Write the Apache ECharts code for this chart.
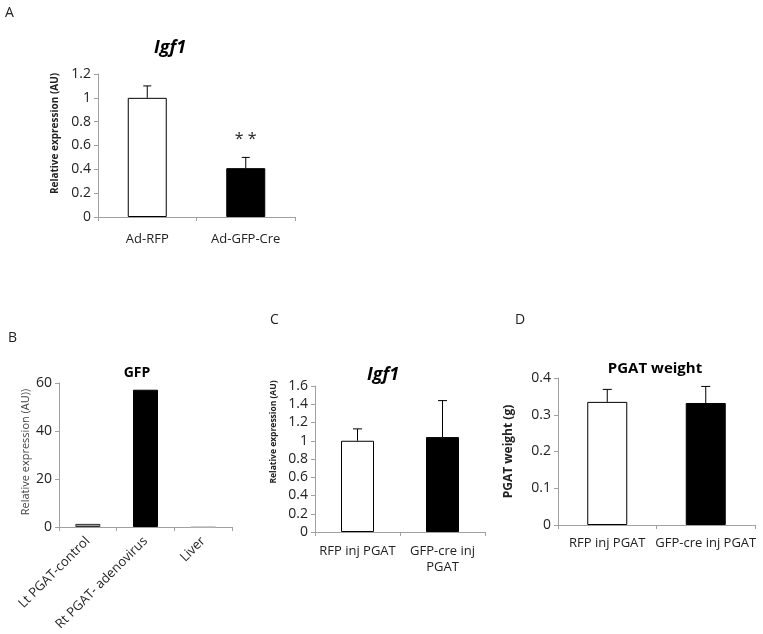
<!DOCTYPE html>
<html><head><meta charset="utf-8">
<script src="https://cdn.jsdelivr.net/npm/echarts@6/dist/echarts.min.js"></script>
<style>html,body{margin:0;padding:0;background:#fff}#c{width:763px;height:634px}</style>
</head><body><div id="c"></div>
<script>
// ---- data ----
const catsA = ['Ad-RFP', 'Ad-GFP-Cre'];
const valsA = [1.0, 0.41];
const errA  = [0.10, 0.09];
const sigA  = ['', '* *'];

const catsB = ['Lt PGAT-control', 'Rt PGAT- adenovirus', 'Liver'];
const valsB = [1.3, 57.2, 0.2];

const catsC = ['RFP inj PGAT', 'GFP-cre inj\nPGAT'];
const valsC = [1.0, 1.04];
const errC  = [0.13, 0.40];

const catsD = ['RFP inj PGAT', 'GFP-cre inj PGAT'];
const valsD = [0.335, 0.332];
const errD  = [0.034, 0.045];

// ---- styles ----
const FONT = '"Open Sans", "Noto Sans", sans-serif';
const AX = '#a0a0a0';
const fillA = ['#ffffff', '#000000'];
const fillB = ['#9a9a9a', '#000000', '#d0d0d0'];
const borderB = ['#333333', '#000000', '#c8c8c8'];

const chart = echarts.init(document.getElementById('c'), null, {renderer: 'canvas'});

function xAx(gi, cats, extra) {
  return Object.assign({
    type: 'category', gridIndex: gi, data: cats,
    axisLine: {lineStyle: {color: AX, width: 1}},
    axisTick: {show: true, length: 4, lineStyle: {color: AX}},
    axisLabel: {color: '#222', fontFamily: FONT, fontSize: 13, margin: 12, interval: 0, lineHeight: 20}
  }, extra || {});
}
function yAx(gi, min, max, interval, name, nameStyle, nameGap) {
  return {
    type: 'value', gridIndex: gi, min: min, max: max, interval: interval,
    name: name, nameLocation: 'middle', nameGap: nameGap, nameRotate: 90,
    nameTextStyle: Object.assign({color: '#222', fontFamily: FONT}, nameStyle),
    axisLine: {show: true, lineStyle: {color: AX, width: 1}},
    axisTick: {show: true, length: 4, lineStyle: {color: AX}},
    splitLine: {show: false},
    axisLabel: {color: '#222', fontFamily: FONT, fontSize: 14, margin: 7}
  };
}
function barSeries(gi, vals, fills, borders, bw) {
  return {
    type: 'bar', xAxisIndex: gi, yAxisIndex: gi, barWidth: bw,
    data: vals.map((v, i) => ({
      value: v,
      itemStyle: {color: fills[i], borderColor: borders ? borders[i] : '#000', borderWidth: 1}
    })),
    silent: true, animation: false
  };
}
function errSeries(gi, vals, errs, cap, stars) {
  return {
    type: 'custom', xAxisIndex: gi, yAxisIndex: gi, animation: false, silent: true,
    data: vals.map((v, i) => [i, v, v + errs[i]]),
    renderItem: function (params, api) {
      const i = api.value(0);
      const p0 = api.coord([i, api.value(1)]);
      const p1 = api.coord([i, api.value(2)]);
      const st = {stroke: '#000', lineWidth: 1};
      const children = [
        {type: 'line', shape: {x1: p0[0], y1: p0[1], x2: p1[0], y2: p1[1]}, style: st},
        {type: 'line', shape: {x1: p1[0] - cap / 2, y1: p1[1], x2: p1[0] + cap / 2, y2: p1[1]}, style: st}
      ];
      if (stars && stars[i]) {
        children.push({type: 'text', x: p1[0], y: p1[1] - 18,
          style: {text: stars[i], fill: '#222', font: '16px ' + FONT, textAlign: 'center', textVerticalAlign: 'middle'}});
      }
      return {type: 'group', children: children};
    }
  };
}

const option = {
  backgroundColor: '#ffffff',
  animation: false,
  title: [
    {text: 'Igf1', left: 165, top: 34, textAlign: 'center',
     textStyle: {fontFamily: FONT, fontSize: 18, fontWeight: 'bold', fontStyle: 'italic', color: '#000'}},
    {text: 'GFP', left: 132, top: 361, textAlign: 'center',
     textStyle: {fontFamily: FONT, fontSize: 14, fontWeight: 'bold', color: '#000'}},
    {text: 'Igf1', left: 378, top: 361, textAlign: 'center',
     textStyle: {fontFamily: FONT, fontSize: 18, fontWeight: 'bold', fontStyle: 'italic', color: '#000'}},
    {text: 'PGAT weight', left: 650, top: 356, textAlign: 'center',
     textStyle: {fontFamily: FONT, fontSize: 15, fontWeight: 'bold', color: '#000'}}
  ],
  graphic: [
    {type: 'text', left: 5, top: 6, style: {text: 'A', font: '14px ' + FONT, fill: '#222'}},
    {type: 'text', left: 8, top: 331, style: {text: 'B', font: '14px ' + FONT, fill: '#222'}},
    {type: 'text', left: 270, top: 313, style: {text: 'C', font: '14px ' + FONT, fill: '#222'}},
    {type: 'text', left: 515, top: 313, style: {text: 'D', font: '14px ' + FONT, fill: '#222'}}
  ],
  grid: [
    {left: 98, top: 74, width: 197, height: 143},
    {left: 59, top: 383, width: 173, height: 144},
    {left: 315, top: 386, width: 170, height: 146},
    {left: 558, top: 378, width: 197, height: 147}
  ],
  xAxis: [
    xAx(0, catsA),
    xAx(1, catsB, {axisLabel: {color: '#222', fontFamily: FONT, fontSize: 13, rotate: 45, interval: 0, margin: 12}}),
    xAx(2, catsC, {axisLabel: {color: '#222', fontFamily: FONT, fontSize: 13, interval: 0, margin: 11, lineHeight: 16}}),
    xAx(3, catsD, {axisLabel: {color: '#222', fontFamily: FONT, fontSize: 13, interval: 0, margin: 12}})
  ],
  yAxis: [
    yAx(0, 0, 1.2, 0.2, 'Relative expression (AU)', {fontSize: 10, fontWeight: 'bold', padding: [0, 0, 0, 24]}, 38),
    yAx(1, 0, 60, 20, 'Relative expression (AU))', {fontSize: 11, color: '#444', padding: [0, 0, 0, 6]}, 28),
    yAx(2, 0, 1.6, 0.2, 'Relative expression (AU)', {fontSize: 8.5, fontWeight: 'bold', padding: [0, 0, 0, 54]}, 37),
    yAx(3, 0, 0.4, 0.1, 'PGAT weight (g)', {fontSize: 12, fontWeight: 'bold'}, 43)
  ],
  series: [
    barSeries(0, valsA, fillA, null, 39),
    errSeries(0, valsA, errA, 8, sigA),
    barSeries(1, valsB, fillB, borderB, 25),
    barSeries(2, valsC, fillA, null, 33),
    errSeries(2, valsC, errC, 9),
    barSeries(3, valsD, fillA, null, 40),
    errSeries(3, valsD, errD, 9)
  ]
};
chart.setOption(option);
</script>
</body></html>
